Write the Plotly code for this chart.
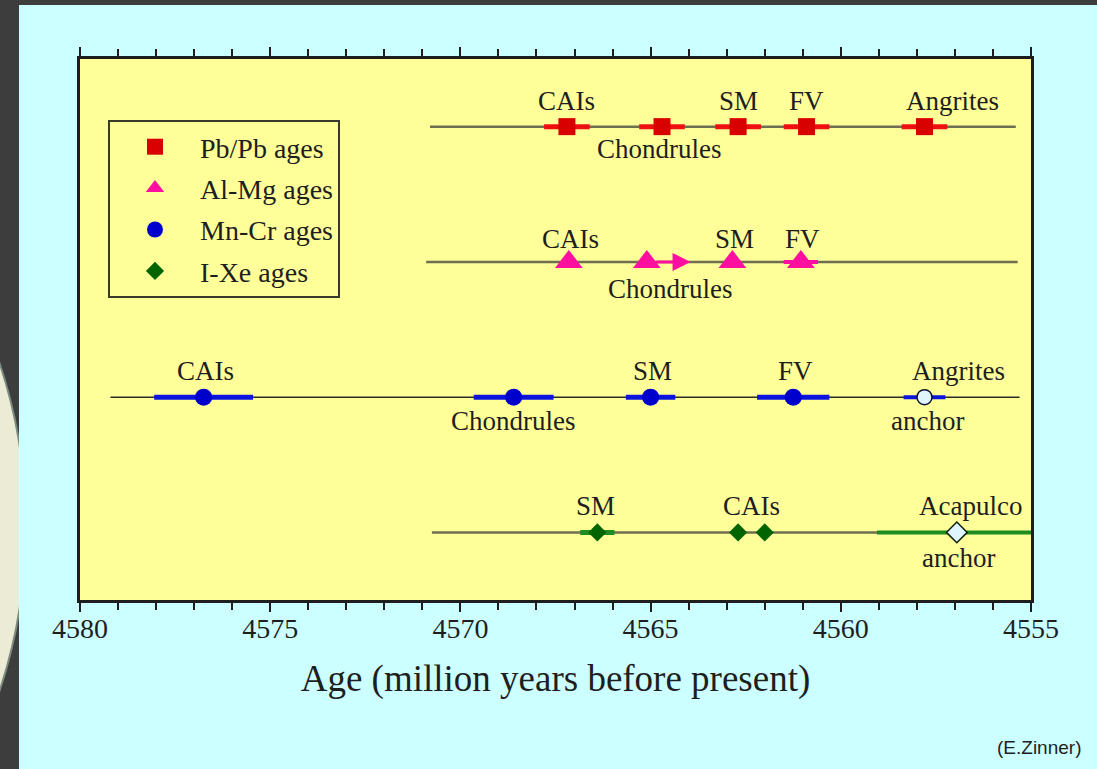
import plotly.graph_objects as go

# ---- data -------------------------------------------------------------
# Pb/Pb ages (Myr before present)
pbpb_names = ["CAIs", "Chondrules", "SM", "FV", "Angrites"]
pbpb_age = [4567.2, 4564.7, 4562.7, 4560.9, 4557.8]
pbpb_err = [0.6, 0.6, 0.6, 0.6, 0.6]

# Al-Mg ages
almg_names = ["CAIs", "Chondrules", "SM", "FV"]
almg_age = [4567.15, 4565.1, 4562.85, 4561.05]
almg_err = [0.0, 0.0, 0.0, 0.45]
almg_chondrule_limit = 4563.95   # chondrule age is a lower limit (arrow)

# Mn-Cr ages (anchored to angrites)
mncr_names = ["CAIs", "Chondrules", "SM", "FV"]
mncr_age = [4576.75, 4568.6, 4565.0, 4561.25]
mncr_err = [1.3, 1.05, 0.65, 0.95]
mncr_anchor_name = "Angrites"
mncr_anchor_age = 4557.8
mncr_anchor_err = 0.55

# I-Xe ages (anchored to Acapulco)
ixe_names = ["SM", "CAIs", "CAIs"]
ixe_age = [4566.4, 4562.7, 4562.0]
ixe_err = [0.45, 0.0, 0.0]
ixe_anchor_name = "Acapulco"
ixe_anchor_age = 4556.95
ixe_anchor_err = 2.1

# timeline extents per system
systems = ["Pb/Pb ages", "Al-Mg ages", "Mn-Cr ages", "I-Xe ages"]
rows = [4, 3, 2, 1]
line_start = [4570.8, 4570.9, 4579.2, 4570.75]
line_end = [4555.4, 4555.35, 4555.3, 4555.0]

x_ticks = [4580, 4575, 4570, 4565, 4560, 4555]

# ---- style -----------------------------------------------------------
SERIF = "Liberation Serif, Times New Roman, serif"
INK = "#1e1e1e"
RED = "#d80000"
RED_BAR = "#ee1010"
PINK = "#ff0fa0"
BLUE = "#0000cc"
BLUE_BAR = "#0a14dd"
GREEN = "#006400"
GREEN_BAR = "#1e8c1e"
ANCHOR_FILL = "#dff5ff"
BASE_COLORS = ["#6e6e50", "#6e6e50", "#2c2c22", "#6e6e50"]
BASE_WIDTHS = [2.5, 2.5, 1.5, 2.5]

fig = go.Figure()

# baselines
for r, x0, x1, c, w in zip(rows, line_start, line_end, BASE_COLORS, BASE_WIDTHS):
    fig.add_trace(go.Scatter(x=[x0, x1], y=[r, r], mode="lines",
                             line=dict(color=c, width=w),
                             showlegend=False, hoverinfo="skip"))

def err(arr, color, thick):
    return dict(type="data", array=arr, symmetric=True, color=color,
                thickness=thick, width=0, visible=True)

# Pb/Pb
fig.add_trace(go.Scatter(
    x=pbpb_age, y=[rows[0]] * len(pbpb_age), mode="markers",
    name=systems[0], legendgroup="a",
    marker=dict(symbol="square", size=17, color=RED),
    error_x=err(pbpb_err, RED_BAR, 5)))

# Al-Mg
fig.add_trace(go.Scatter(
    x=almg_age, y=[rows[1]] * len(almg_age), mode="markers",
    name=systems[1], legendgroup="b",
    marker=dict(symbol="triangle-up", size=24, color=PINK),
    error_x=err(almg_err, PINK, 4)))

# Mn-Cr
fig.add_trace(go.Scatter(
    x=mncr_age, y=[rows[2]] * len(mncr_age), mode="markers",
    name=systems[2], legendgroup="c",
    marker=dict(symbol="circle", size=17, color=BLUE),
    error_x=err(mncr_err, BLUE_BAR, 5)))
fig.add_trace(go.Scatter(
    x=[mncr_anchor_age], y=[rows[2]], mode="markers", showlegend=False,
    marker=dict(symbol="circle", size=15, color=ANCHOR_FILL,
                line=dict(color="#101030", width=1.5)),
    error_x=err([mncr_anchor_err], BLUE_BAR, 4)))

# I-Xe
fig.add_trace(go.Scatter(
    x=ixe_age, y=[rows[3]] * len(ixe_age), mode="markers",
    name=systems[3], legendgroup="d",
    marker=dict(symbol="diamond", size=14, color=GREEN),
    error_x=err(ixe_err, GREEN_BAR, 5)))
fig.add_trace(go.Scatter(
    x=[ixe_anchor_age], y=[rows[3]], mode="markers", showlegend=False,
    marker=dict(symbol="diamond", size=16, color=ANCHOR_FILL,
                line=dict(color="#102010", width=1.5)),
    error_x=err([ixe_anchor_err], GREEN_BAR, 4)))

# ---- labels ----------------------------------------------------------
ABOVE, BELOW = 26, -24
labels = []
for n, a in zip(pbpb_names, pbpb_age):
    if n == "Chondrules":
        labels.append((n, a, rows[0], -22, -3))
    elif n == "Angrites":
        labels.append((n, a, rows[0], ABOVE, 28))
    else:
        labels.append((n, a, rows[0], ABOVE, 0))
for n, a in zip(almg_names, almg_age):
    if n == "Chondrules":
        labels.append((n, a, rows[1], -27, 24))
    else:
        labels.append((n, a, rows[1], 23, 2))
for n, a in zip(mncr_names, mncr_age):
    if n == "Chondrules":
        labels.append((n, a, rows[2], BELOW, 0))
    else:
        labels.append((n, a, rows[2], ABOVE, 2))
labels.append((mncr_anchor_name, mncr_anchor_age, rows[2], ABOVE, 34))
labels.append(("anchor", mncr_anchor_age, rows[2], BELOW, 3))
labels.append((ixe_names[0], ixe_age[0], rows[3], ABOVE, -2))
labels.append((ixe_names[1], (ixe_age[1] + ixe_age[2]) / 2, rows[3], ABOVE, 0))
labels.append((ixe_anchor_name, ixe_anchor_age, rows[3], ABOVE, 14))
labels.append(("anchor", ixe_anchor_age, rows[3], -26, 2))

annotations = [
    dict(x=a, y=r, xref="x", yref="y", text=t, showarrow=False,
         yshift=ys, xshift=xs, font=dict(family=SERIF, size=27, color=INK))
    for t, a, r, ys, xs in labels
]
# lower-limit arrow on the Al-Mg chondrule age
annotations.append(dict(
    x=almg_chondrule_limit, y=rows[1], ax=almg_age[1], ay=rows[1],
    xref="x", yref="y", axref="x", ayref="y", text="",
    showarrow=True, arrowhead=2, arrowsize=1.2, arrowwidth=3,
    arrowcolor=PINK, startstandoff=8))

# ---- page frame ------------------------------------------------------
W, H = 1097, 769
L, R, T, B = 80, 66, 59, 169
pw, ph = W - L - R, H - T - B
def px(x):
    return (x - L) / pw
def py(y):
    return 1 - (y - T) / ph

annotations.append(dict(
    x=px(1039), y=py(747), xref="paper", yref="paper", text="(E.Zinner)",
    xanchor="center", yanchor="middle", showarrow=False,
    font=dict(family="Liberation Sans, Arial, sans-serif", size=19, color=INK)))

shapes = [
    dict(type="rect", xref="paper", yref="paper", x0=px(0), x1=px(W),
         y0=py(0), y1=py(5), fillcolor="#3d3d3d", line_width=0, layer="below"),
    dict(type="rect", xref="paper", yref="paper", x0=px(0), x1=px(19),
         y0=py(0), y1=py(H), fillcolor="#3d3d3d", line_width=0, layer="below"),
    dict(type="circle", xref="paper", yref="paper", x0=px(-1016), x1=px(26),
         y0=py(527 - 521), y1=py(527 + 521), fillcolor="#ecebd6",
         line=dict(color="#7b8a7e", width=2), layer="below"),
    dict(type="rect", xref="paper", yref="paper", x0=px(19), x1=px(60),
         y0=py(5), y1=py(H), fillcolor="#ccffff", line_width=0, layer="below"),
]

fig.update_layout(
    width=W, height=H,
    margin=dict(l=L, r=R, t=T, b=B),
    paper_bgcolor="#ccffff",
    plot_bgcolor="#ffff99",
    font=dict(family=SERIF, color=INK),
    showlegend=True,
    legend=dict(
        x=px(108), y=py(120), xanchor="left", yanchor="top",
        bgcolor="#ffff99", bordercolor="#3a3a2a", borderwidth=2,
        font=dict(family=SERIF, size=28, color=INK),
        itemwidth=80, tracegroupgap=2, itemclick=False,
    ),
    annotations=annotations,
    shapes=shapes,
    xaxis=dict(
        range=[4580, 4555], tickvals=x_ticks, ticks="outside", ticklen=9,
        tickwidth=2, tickcolor=INK, showline=True, linewidth=2.5,
        linecolor=INK, mirror="ticks", showgrid=False, zeroline=False,
        ticklabelstandoff=-7,
        tickfont=dict(family=SERIF, size=28, color=INK),
        minor=dict(dtick=1, ticks="outside", ticklen=7, tickwidth=2,
                   tickcolor=INK, showgrid=False),
        title=dict(text="Age (million years before present)", standoff=22,
                   font=dict(family=SERIF, size=37, color=INK)),
    ),
    yaxis=dict(
        range=[0.5, 4.5], showticklabels=False, ticks="", showline=True,
        linewidth=2.5, linecolor=INK, mirror=True, showgrid=False,
        zeroline=False,
    ),
)

fig.write_html("out.html")
